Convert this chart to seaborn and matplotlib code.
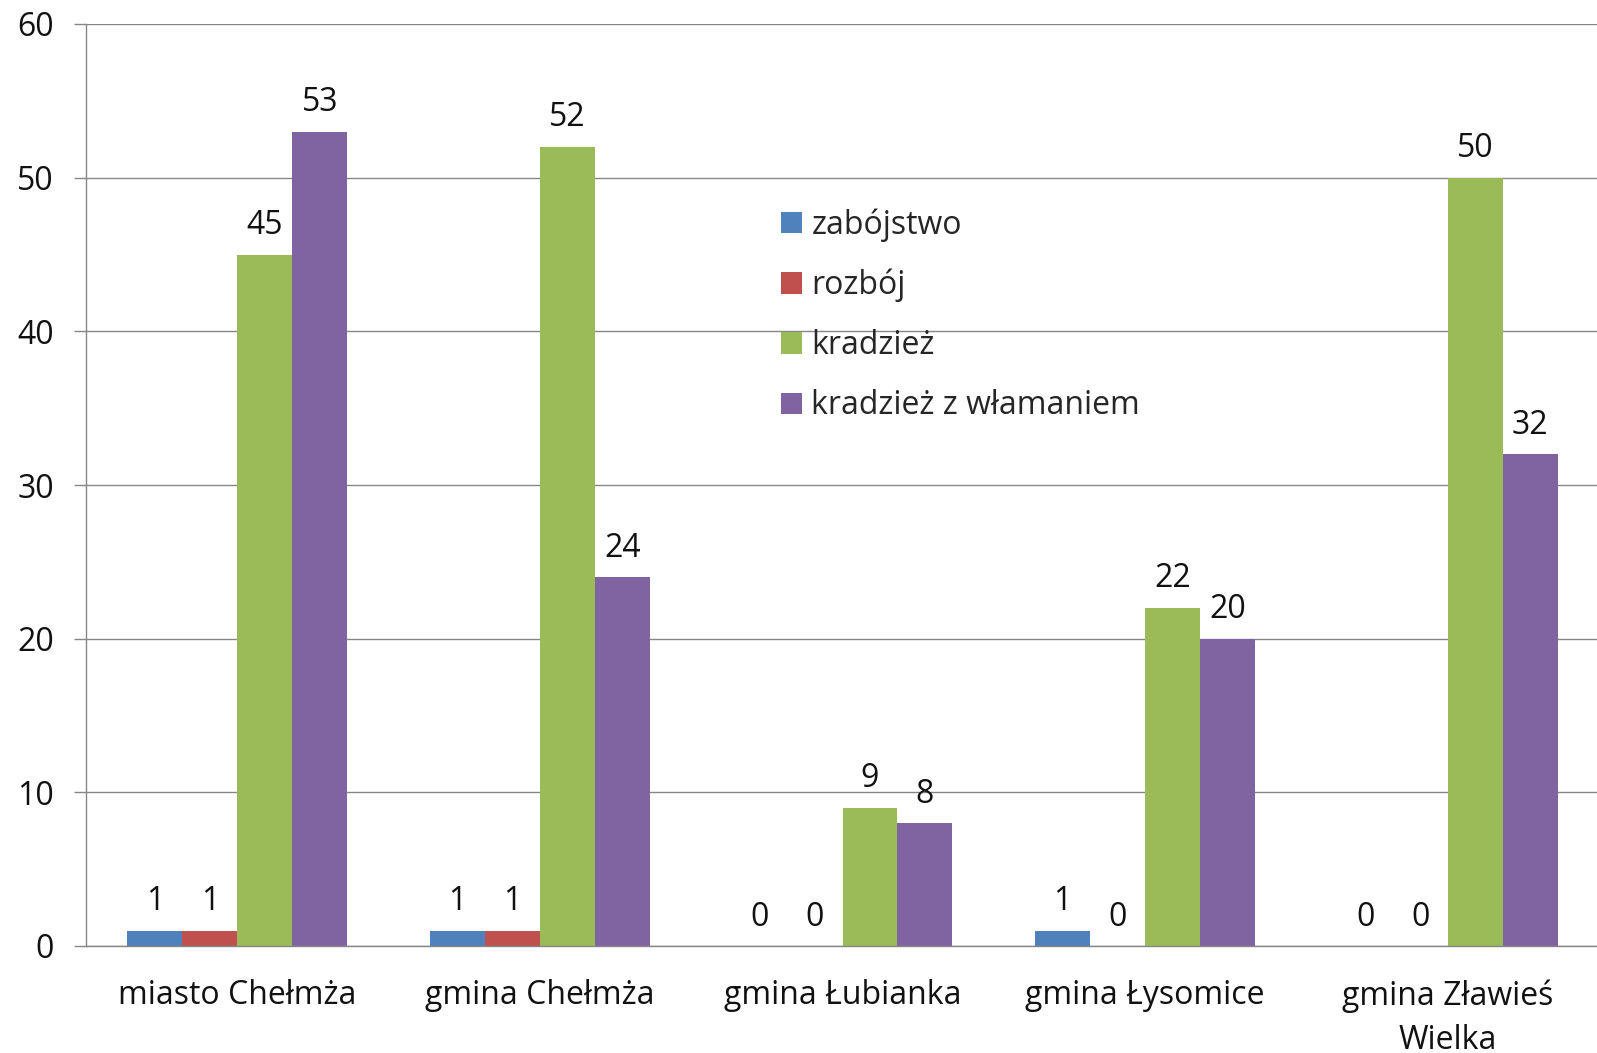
import matplotlib
matplotlib.use("Agg")
import matplotlib.pyplot as plt
import seaborn as sns
import pandas as pd
import numpy as np

categories = ["miasto Chełmża", "gmina Chełmża", "gmina Łubianka", "gmina Łysomice", "gmina Zławieś\nWielka"]
series = ["zabójstwo", "rozbój", "kradzież", "kradzież z włamaniem"]
zabojstwo = [1, 1, 0, 1, 0]
rozboj = [1, 1, 0, 0, 0]
kradziez = [45, 52, 9, 22, 50]
wlamanie = [53, 24, 8, 20, 32]
colors = ["#4F81BD", "#C0504D", "#9BBB59", "#8064A2"]
yticks = [0, 10, 20, 30, 40, 50, 60]

rows = []
for s, vals in zip(series, [zabojstwo, rozboj, kradziez, wlamanie]):
    for c, v in zip(categories, vals):
        rows.append({"cat": c, "series": s, "value": v})
df = pd.DataFrame(rows)

sns.set_theme(style="white")
plt.rcParams['font.family'] = ['Open Sans', 'DejaVu Sans']
FS = 23

W, H = 1597, 1053
fig = plt.figure(figsize=(W / 100, H / 100), dpi=100)
ax = fig.add_axes([86 / W, (H - 946) / H, 1513 / W, (946 - 24) / H])

sns.barplot(data=df, x="cat", y="value", hue="series", order=categories,
            hue_order=series, palette=colors, width=0.727, ax=ax,
            saturation=1, errorbar=None, legend=True, linewidth=0)

for cont in ax.containers:
    ax.bar_label(cont, fmt="%d", padding=9, fontsize=FS, color="#111111")

ax.set_xlim(-0.5, 4.5)
ax.set_ylim(0, 60)
ax.set_yticks(yticks)
ax.set_yticklabels([str(t) for t in yticks], fontsize=FS)
ax.set_xlabel("")
ax.set_ylabel("")
ax.set_xticks(range(len(categories)))
ax.set_xticklabels(categories, fontsize=FS, color="#111111", linespacing=1.45)
ax.set_xticks(np.arange(-0.5, 4.6, 1.0), minor=True)
ax.tick_params(axis="x", which="major", length=0, pad=24)
ax.tick_params(axis="x", which="minor", length=9, width=1, color="#868686", direction="out")
ax.tick_params(axis="y", length=9, width=1, color="#868686", direction="out", pad=14, labelcolor="#111111")
ax.tick_params(axis="both", bottom=True, left=True)

ax.yaxis.grid(True, color="#868686", linewidth=1)
ax.set_axisbelow(True)
for side in ["top", "right"]:
    ax.spines[side].set_visible(False)
for side in ["left", "bottom"]:
    ax.spines[side].set_color("#868686")
    ax.spines[side].set_linewidth(1)

ax.legend(loc="upper left", bbox_to_anchor=(781 / W, 1 - 208 / H), bbox_transform=fig.transFigure,
          frameon=False, fontsize=FS, handlelength=0.65, handleheight=0.65,
          handletextpad=0.3, labelspacing=0.85, borderaxespad=0, borderpad=0)

fig.savefig("out.png", dpi=100)
